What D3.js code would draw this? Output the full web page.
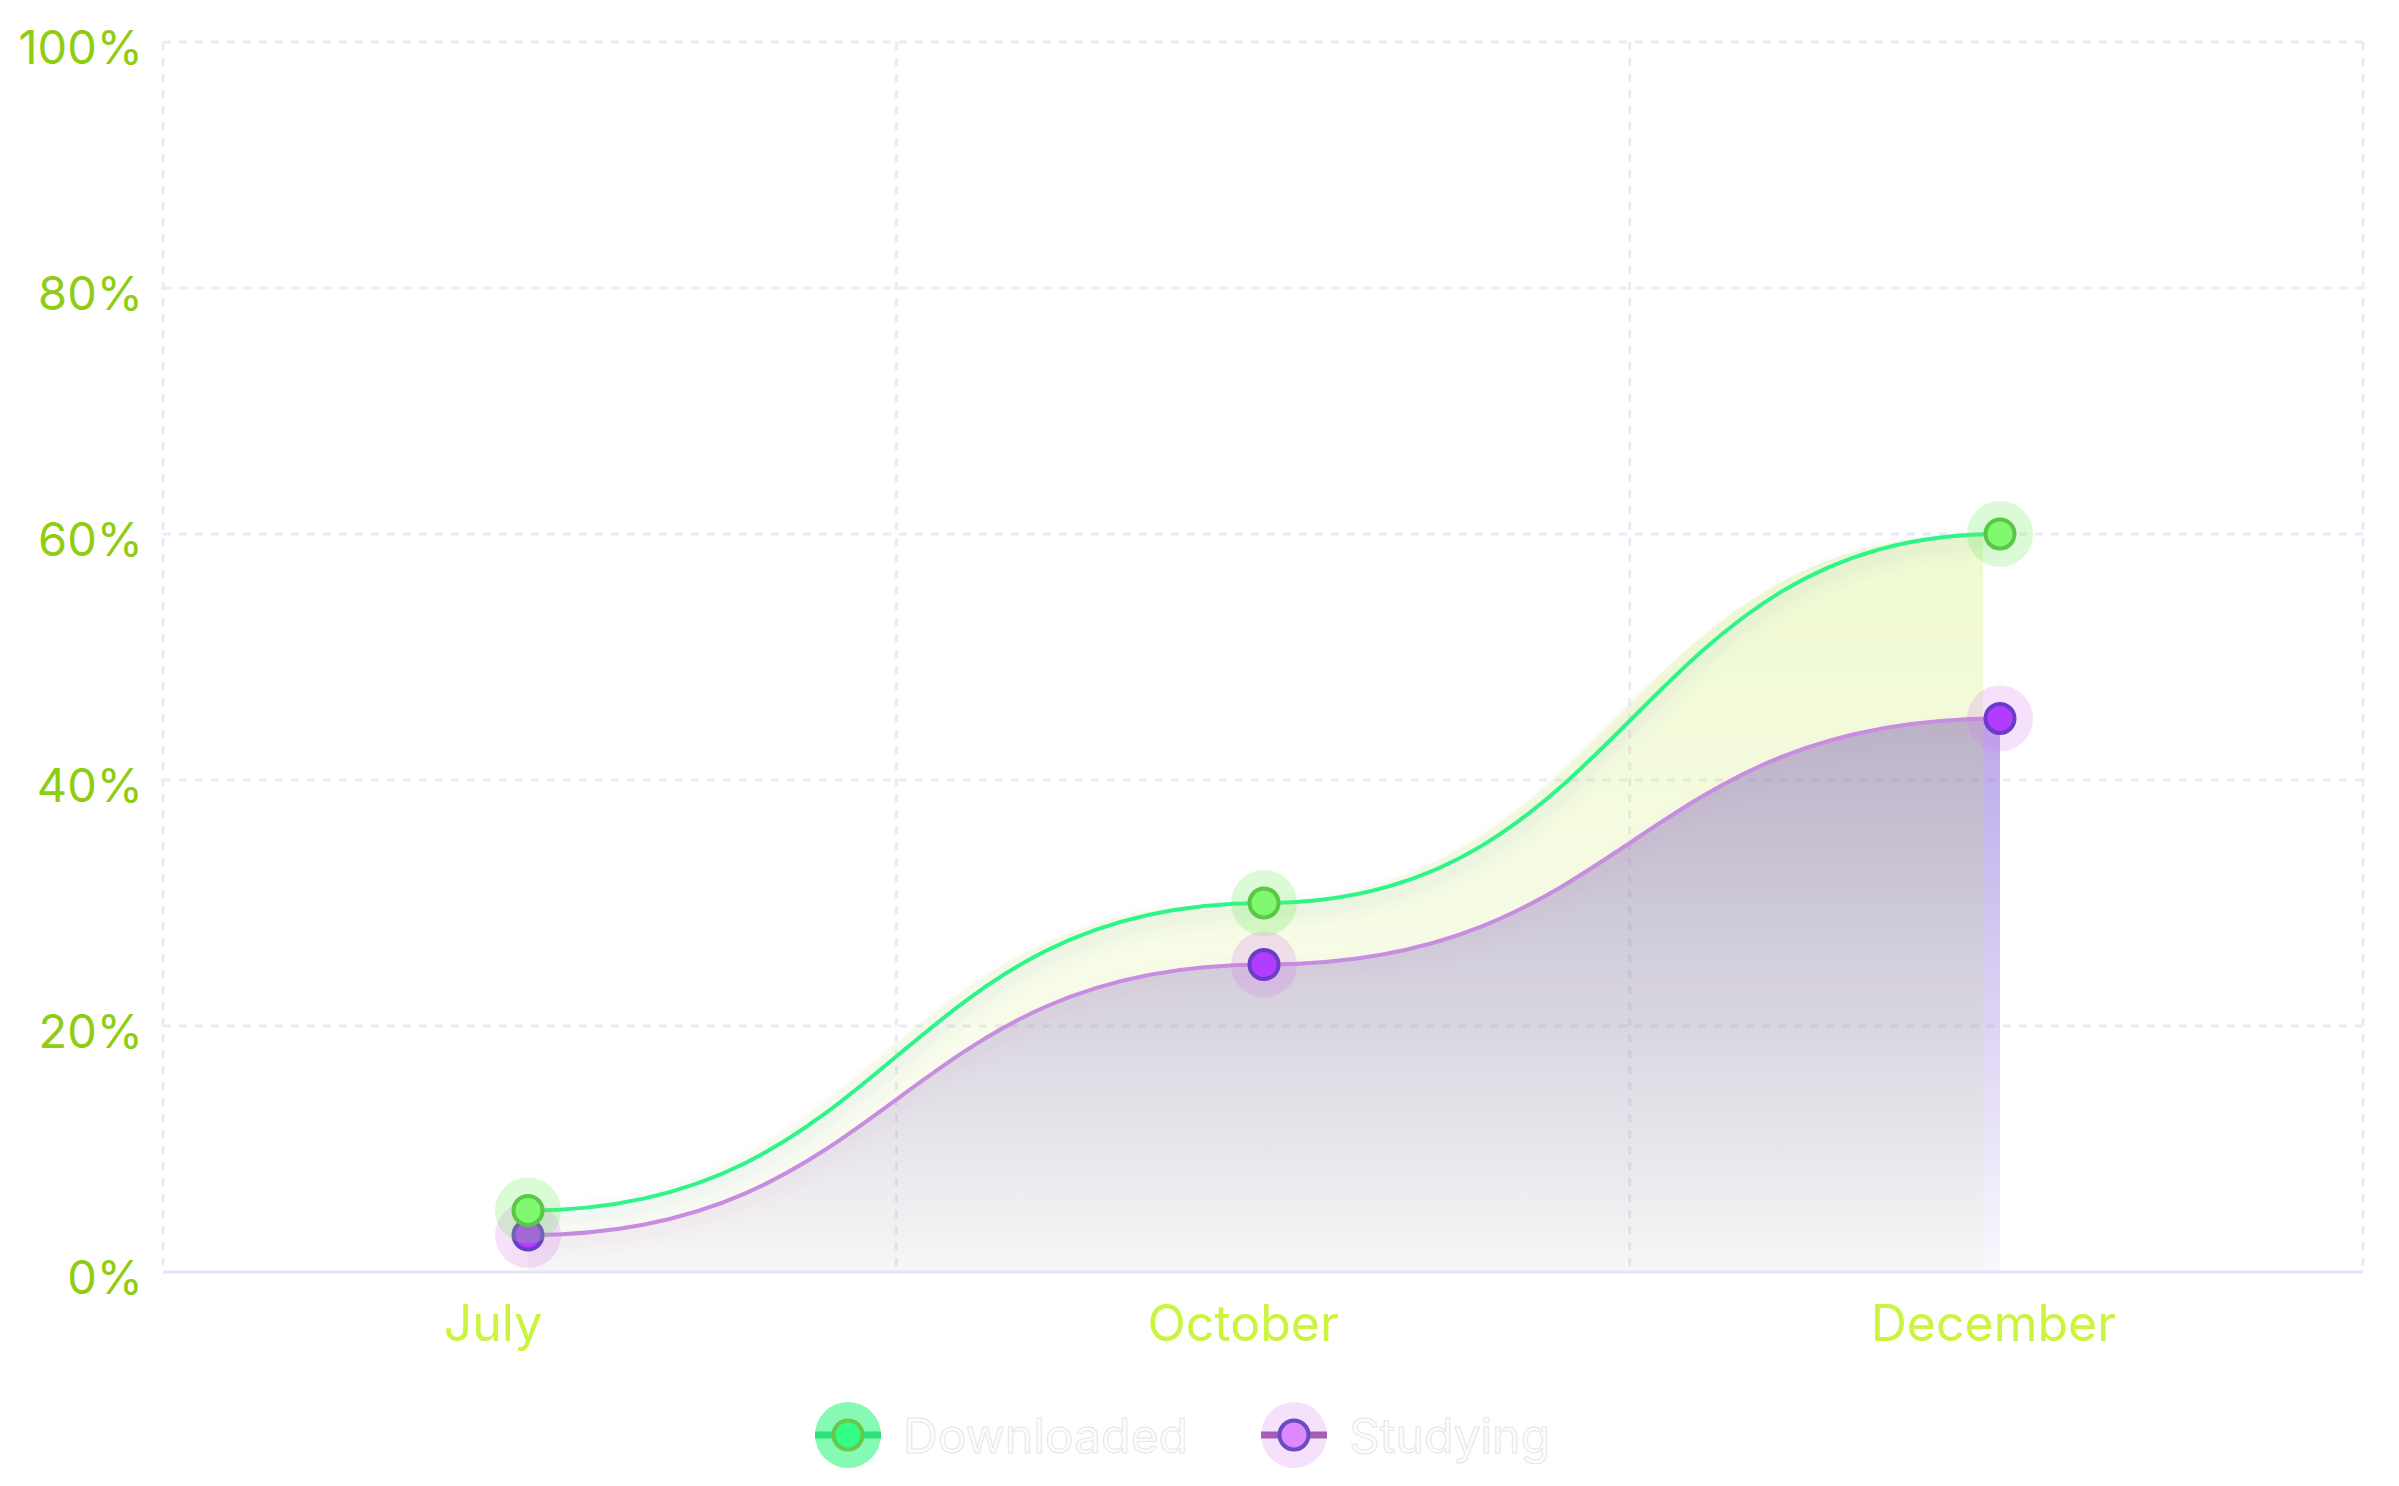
<!DOCTYPE html>
<html><head><meta charset="utf-8">
<script src="https://cdn.jsdelivr.net/npm/d3@7"></script>
<style>
html,body{margin:0;padding:0;background:#fff;}
svg{display:block;font-family:Inter,"Noto Sans",sans-serif;}
</style>
</head><body>
<svg id="chart" width="2399" height="1486"></svg>
<script>
// ---- data ----
const months = ["July", "October", "December"];
const downloaded = [5, 30, 60];
const studying = [3, 25, 45];
const yTicks = [0, 20, 40, 60, 80, 100];
const seriesNames = ["Downloaded", "Studying"];

// ---- layout ----
const W = 2399, H = 1486;
const margin = {left: 163, top: 42, right: 36, bottom: 214};
const innerW = W - margin.left - margin.right;
const innerH = H - margin.top - margin.bottom;

const svg = d3.select("#chart");
const defs = svg.append("defs");

function grad(id, color, o0, o1) {
  const g = defs.append("linearGradient").attr("id", id)
    .attr("x1", 0).attr("y1", 0).attr("x2", 0).attr("y2", 1);
  g.append("stop").attr("offset", "0%").attr("stop-color", color).attr("stop-opacity", o0);
  g.append("stop").attr("offset", "100%").attr("stop-color", color).attr("stop-opacity", o1);
}
grad("gradPurple", "rgb(112,74,210)", 0.48, 0.04);
grad("gradGreen", "rgb(190,232,60)", 0.24, 0.04);

function shadow(id, color, op, dy, sd) {
  const f = defs.append("filter").attr("id", id)
    .attr("x", "-10%").attr("y", "-60%").attr("width", "120%").attr("height", "220%");
  f.append("feDropShadow").attr("dx", 0).attr("dy", dy).attr("stdDeviation", sd)
    .attr("flood-color", color).attr("flood-opacity", op);
}
shadow("shGreen", "#5a64c8", 0.28, 8, 8);
shadow("shPurple", "#c870a8", 0.18, 8, 7);

const g = svg.append("g").attr("transform", `translate(${margin.left},${margin.top})`);

const x = d3.scalePoint().domain(months).range([-3, innerW + 5]).padding(0.5);
const xBand = d3.scaleBand().domain(months).range([0, innerW]);
const xLabel = d3.scalePoint().domain(months).range([innerW * 0.15, innerW * 0.832]);
const y = d3.scaleLinear().domain([0, 100]).range([innerH, 0]);

// ---- grid ----
const gridColor = "#ebebf7";
g.append("g").selectAll("line.h").data(yTicks.filter(d => d > 0)).join("line")
  .attr("x1", 0).attr("x2", innerW)
  .attr("y1", d => y(d)).attr("y2", d => y(d))
  .attr("stroke", gridColor).attr("stroke-width", 3).attr("stroke-dasharray", "8,8");
const vEdges = months.map(m => xBand(m)).concat([innerW]);
g.append("g").selectAll("line.v").data(vEdges).join("line")
  .attr("x1", d => d).attr("x2", d => d)
  .attr("y1", 0).attr("y2", innerH)
  .attr("stroke", gridColor).attr("stroke-width", 3).attr("stroke-dasharray", "8,8");

// ---- areas ----
const dl = months.map((m, i) => ({m, v: downloaded[i]}));
const st = months.map((m, i) => ({m, v: studying[i]}));
const area = d3.area().x(d => x(d.m)).y0(y(0)).y1(d => y(d.v)).curve(d3.curveBumpX);
const line = d3.line().x(d => x(d.m)).y(d => y(d.v)).curve(d3.curveBumpX);

g.append("path").datum(st).attr("d", area).attr("fill", "url(#gradPurple)");
g.append("path").datum(dl).attr("d", area).attr("fill", "url(#gradGreen)")
  .attr("transform", "translate(-17,0)");

// ---- axis line ----
g.append("line").attr("x1", 0).attr("x2", innerW).attr("y1", y(0)).attr("y2", y(0))
  .attr("stroke", "#e6e4fa").attr("stroke-width", 3);

// ---- lines ----
g.append("path").datum(st).attr("d", line).attr("fill", "none")
  .attr("stroke", "#c88ce0").attr("stroke-width", 4).attr("filter", "url(#shPurple)");
g.append("path").datum(dl).attr("d", line).attr("fill", "none")
  .attr("stroke", "#2ef58a").attr("stroke-width", 4).attr("filter", "url(#shGreen)");

// ---- points ----
function points(data, haloColor, fill, stroke) {
  const pg = g.append("g");
  pg.selectAll("circle.halo").data(data).join("circle")
    .attr("cx", d => x(d.m)).attr("cy", d => y(d.v)).attr("r", 33)
    .attr("fill", haloColor);
  pg.selectAll("circle.dot").data(data).join("circle")
    .attr("cx", d => x(d.m)).attr("cy", d => y(d.v)).attr("r", 14.5)
    .attr("fill", fill).attr("stroke", stroke).attr("stroke-width", 4);
}
points(st, "rgba(215,120,240,0.22)", "#b23cff", "#6a3cc8");
points(dl, "rgba(110,235,90,0.25)", "#80f870", "#5ac846");

// ---- y labels ----
svg.append("g").selectAll("text").data(yTicks).join("text")
  .attr("x", 143).attr("y", d => margin.top + y(d) + 22)
  .attr("text-anchor", "end").attr("font-size", 47).attr("fill", "#8fcd12")
  .text(d => d + "%");

// ---- x labels ----
svg.append("g").selectAll("text").data(months).join("text")
  .attr("x", d => margin.left + xLabel(d)).attr("y", 1341)
  .attr("text-anchor", "middle").attr("font-size", 50).attr("fill", "#cbf43c")
  .text(d => d);

// ---- legend ----
const legend = [
  {name: seriesNames[0], halo: "#86f9b4", line: "#2ce07a", fill: "#33ff88", stroke: "#66c94a", cx: 848},
  {name: seriesNames[1], halo: "#f5e1fc", line: "#a45fb5", fill: "#dd88ff", stroke: "#6a4cc2", cx: 1294}
];
const lg = svg.append("g");
legend.forEach(it => {
  const cy = 1435;
  lg.append("circle").attr("cx", it.cx).attr("cy", cy).attr("r", 33).attr("fill", it.halo);
  lg.append("line").attr("x1", it.cx - 33).attr("x2", it.cx + 33).attr("y1", cy).attr("y2", cy)
    .attr("stroke", it.line).attr("stroke-width", 7);
  lg.append("circle").attr("cx", it.cx).attr("cy", cy).attr("r", 14.5)
    .attr("fill", it.fill).attr("stroke", it.stroke).attr("stroke-width", 4);
  lg.append("text").attr("x", it.cx + 55).attr("y", cy + 18)
    .attr("font-size", 48).attr("fill", "#fdfdfd").attr("stroke", "#e6e6e6").attr("stroke-width", 1)
    .text(it.name);
});
</script>
</body></html>
